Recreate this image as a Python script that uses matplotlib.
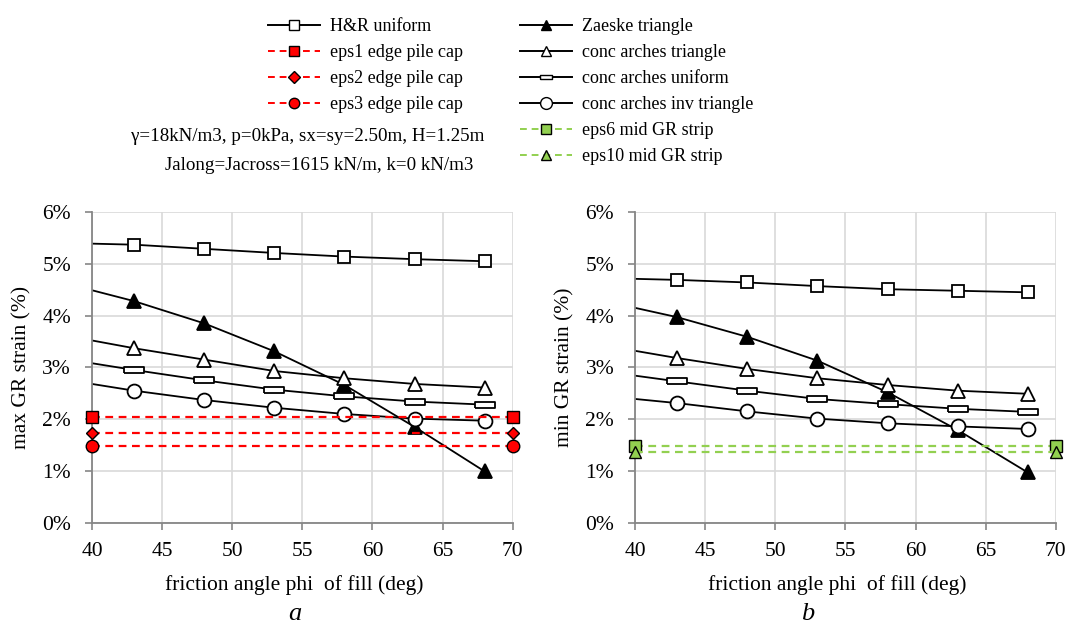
import numpy as np
import matplotlib
matplotlib.use("Agg")
import matplotlib.pyplot as plt
from matplotlib.lines import Line2D
from matplotlib.ticker import FuncFormatter, MultipleLocator

plt.rcParams['font.family'] = ['Liberation Serif', 'DejaVu Serif']
plt.rcParams['font.size'] = 13

# friction angle of fill (deg); first point is drawn without a marker
phi = [40, 43, 48, 53, 58, 63, 68]

# plot a: max GR strain (%)
a_hr = [5.39, 5.37, 5.29, 5.21, 5.14, 5.09, 5.05]
a_zaeske = [4.49, 4.28, 3.85, 3.31, 2.66, 1.85, 0.99]
a_tri = [3.52, 3.37, 3.15, 2.93, 2.79, 2.68, 2.61]
a_uni = [3.08, 2.95, 2.75, 2.57, 2.44, 2.34, 2.28]
a_inv = [2.68, 2.55, 2.37, 2.22, 2.10, 2.01, 1.97]
eps1 = 2.04
eps2 = 1.73
eps3 = 1.49

# plot b: min GR strain (%)
b_hr = [4.71, 4.69, 4.64, 4.57, 4.51, 4.48, 4.45]
b_zaeske = [4.15, 3.97, 3.59, 3.13, 2.52, 1.79, 0.97]
b_tri = [3.32, 3.18, 2.97, 2.79, 2.66, 2.55, 2.49]
b_uni = [2.84, 2.73, 2.55, 2.39, 2.29, 2.20, 2.14]
b_inv = [2.39, 2.31, 2.15, 2.01, 1.92, 1.86, 1.81]
eps6 = 1.49
eps10 = 1.36

x_ends = [40, 70]
red = '#ff0000'
green = '#92d050'
flat = [(-1, -0.28), (1, -0.28), (1, 0.28), (-1, 0.28), (-1, -0.28)]
dash = (0, (3.5, 2.5))

def series(ax, y, marker, mfc, ms):
    ax.plot(phi, y, color='black', lw=1.3, marker=marker, mfc=mfc, mec='black',
            mew=1.3, ms=ms, markevery=slice(1, None))

def flat_line(ax, val, color, marker, ms):
    ax.plot(x_ends, [val, val], color=color, lw=1.6, ls=dash,
            marker=marker, mfc=color, mec='black', mew=1.0, ms=ms, clip_on=False, zorder=3)

def style(ax, ylabel):
    ax.set_xlim(40, 70)
    ax.set_ylim(0, 6)
    ax.xaxis.set_major_locator(MultipleLocator(5))
    ax.yaxis.set_major_locator(MultipleLocator(1))
    ax.yaxis.set_major_formatter(FuncFormatter(lambda v, p: '%d%%' % v))
    ax.grid(True, color='#d9d9d9', lw=1.2)
    ax.set_axisbelow(True)
    for s in ['top', 'right']:
        ax.spines[s].set_visible(False)
    for s in ['left', 'bottom']:
        ax.spines[s].set_color('#868686')
        ax.spines[s].set_linewidth(1.3)
    ax.tick_params(axis='both', direction='out', length=5, color='#868686', width=1.2,
                   labelsize=15.5)
    ax.tick_params(axis='x', pad=9)
    ax.tick_params(axis='y', pad=10)
    ax.set_xlabel('friction angle phi  of fill (deg)', fontsize=15.5, labelpad=10, x=0.48)
    ax.set_ylabel(ylabel, fontsize=15.5, labelpad=8)

fig = plt.figure(figsize=(10.68, 6.25), dpi=100)
ax1 = fig.add_axes([0.0861, 0.1637, 0.394, 0.497])
ax2 = fig.add_axes([0.5946, 0.1637, 0.394, 0.497])

series(ax1, a_hr, 's', 'white', 8)
flat_line(ax1, eps1, red, 's', 8)
flat_line(ax1, eps2, red, 'D', 6)
flat_line(ax1, eps3, red, 'o', 9)
series(ax1, a_zaeske, '^', 'black', 10)
series(ax1, a_tri, '^', 'white', 10)
series(ax1, a_uni, flat, 'white', 14)
series(ax1, a_inv, 'o', 'white', 10)
style(ax1, 'max GR strain (%)')

series(ax2, b_hr, 's', 'white', 8)
series(ax2, b_zaeske, '^', 'black', 10)
series(ax2, b_tri, '^', 'white', 10)
series(ax2, b_uni, flat, 'white', 14)
series(ax2, b_inv, 'o', 'white', 10)
flat_line(ax2, eps6, green, 's', 8)
flat_line(ax2, eps10, green, '^', 8)
style(ax2, 'min GR strain (%)')

fig.text(0.2762, 0.0085, 'a', fontsize=19, style='italic', ha='center', va='baseline')
fig.text(0.7566, 0.0085, 'b', fontsize=19, style='italic', ha='center', va='baseline')

def h(color, ls, marker, mfc, ms):
    return Line2D([], [], color=color, lw=1.4, ls=ls, marker=marker, mfc=mfc,
                  mec='black', mew=1.0, ms=ms)

left_h = [h('black', '-', 's', 'white', 7.5), h(red, dash, 's', red, 7.5),
          h(red, dash, 'D', red, 6), h(red, dash, 'o', red, 7.5)]
left_l = ['H&R uniform', 'eps1 edge pile cap', 'eps2 edge pile cap', 'eps3 edge pile cap']
right_h = [h('black', '-', '^', 'black', 7.5), h('black', '-', '^', 'white', 7.5),
           h('black', '-', flat, 'white', 8.5), h('black', '-', 'o', 'white', 8.5),
           h(green, dash, 's', green, 7.5), h(green, dash, '^', green, 7.5)]
right_l = ['Zaeske triangle', 'conc arches triangle', 'conc arches uniform',
           'conc arches inv triangle', 'eps6 mid GR strip', 'eps10 mid GR strip']

leg_kw = dict(loc='upper left', frameon=False, fontsize=13, handlelength=2.9,
              handletextpad=0.55, labelspacing=0.5, borderpad=0, borderaxespad=0)
fig.legend(left_h, left_l, bbox_to_anchor=(0.251, 0.971), **leg_kw)
fig.legend(right_h, right_l, bbox_to_anchor=(0.487, 0.971), **leg_kw)

fig.text(0.288, 0.781, 'γ=18kN/m3, p=0kPa, sx=sy=2.50m, H=1.25m', fontsize=13.7, ha='center', va='center')
fig.text(0.299, 0.736, 'Jalong=Jacross=1615 kN/m, k=0 kN/m3', fontsize=13.7, ha='center', va='center')

fig.savefig('out.png', dpi=100)
